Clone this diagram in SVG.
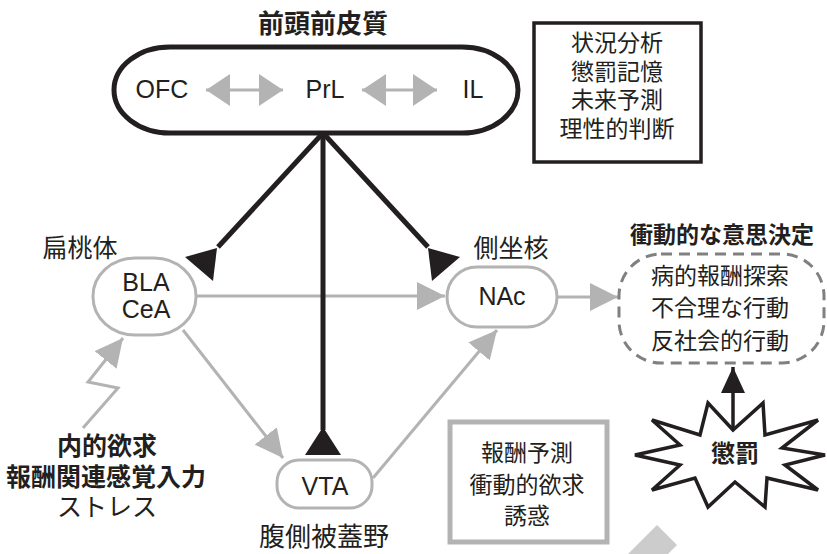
<svg xmlns="http://www.w3.org/2000/svg" width="827" height="554" viewBox="0 0 827 554">
<defs>
<style>
.t{font-family:"Liberation Sans","Noto Sans CJK JP",sans-serif;fill:#231f20;text-anchor:middle}
.j{font-family:"Noto Sans CJK JP","Liberation Sans",sans-serif;fill:#231f20;text-anchor:middle}
.b{font-weight:bold}
.gn{fill:#fff;stroke:#b3b3b3;stroke-width:3}
.gl{fill:none;stroke:#b3b3b3;stroke-width:3}
.bl{fill:none;stroke:#231f20;stroke-width:5}
.bh{fill:#231f20;stroke:none}
</style>
<marker id="ga" viewBox="0 0 28 28" refX="28" refY="14" markerWidth="28" markerHeight="28" markerUnits="userSpaceOnUse" orient="auto">
<path d="M0,0 L28,14 L0,28 Z" fill="#b3b3b3"/>
</marker>
<marker id="gd" viewBox="0 0 24 32" refX="24" refY="16" markerWidth="24" markerHeight="32" markerUnits="userSpaceOnUse" orient="auto-start-reverse">
<path d="M0,0 L24,16 L0,32 Z" fill="#b3b3b3"/>
</marker>
<marker id="ba" viewBox="0 0 26 24" refX="26" refY="12" markerWidth="26" markerHeight="24" markerUnits="userSpaceOnUse" orient="auto">
<path d="M0,0 L26,12 L0,24 Z" fill="#231f20"/>
</marker>
</defs>
<rect width="827" height="554" fill="#fff"/>

<g id="pfc">
<text class="j b" x="323" y="33" font-size="26">前頭前皮質</text>
<rect x="114" y="47" width="404" height="86" rx="56" ry="43" fill="#fff" stroke="#231f20" stroke-width="5"/>
<text class="t" x="162" y="98" font-size="25">OFC</text>
<text class="t" x="325" y="98" font-size="25">PrL</text>
<text class="t" x="473" y="98" font-size="25">IL</text>
<line class="gl" x1="206" y1="90" x2="283" y2="90" marker-start="url(#gd)" marker-end="url(#gd)"/>
<line class="gl" x1="362" y1="90" x2="437" y2="90" marker-start="url(#gd)" marker-end="url(#gd)"/>
</g>

<g id="functions">
<rect x="534" y="23" width="167" height="139" fill="#fff" stroke="#231f20" stroke-width="3.5"/>
<text class="j" x="617" y="51" font-size="23">状況分析</text>
<text class="j" x="617" y="80" font-size="23">懲罰記憶</text>
<text class="j" x="617" y="108" font-size="23">未来予測</text>
<text class="j" x="617" y="137" font-size="23">理性的判断</text>
</g>

<g id="connectors">
<line class="gl" x1="197" y1="296" x2="445" y2="296" marker-end="url(#ga)"/>
<line class="gl" x1="557" y1="297" x2="618" y2="297" marker-end="url(#ga)"/>
<line class="gl" x1="183" y1="330" x2="283" y2="458" marker-end="url(#ga)"/>
<line class="gl" x1="373" y1="478" x2="497" y2="330" marker-end="url(#ga)"/>
<polyline class="gl" points="83,428 118,388 88,382 123,338" marker-end="url(#ga)"/>
<line class="bl" x1="323" y1="133" x2="218" y2="247"/>
<polygon class="bh" points="217,248 185,257 213,281"/>
<line class="bl" x1="323" y1="133" x2="428" y2="247"/>
<polygon class="bh" points="428,248 460,257 432,281"/>
<line class="bl" x1="323" y1="133" x2="323" y2="430"/>
<polygon class="bh" points="323,427 305,455 341,455"/>
<line x1="733" y1="432" x2="733" y2="367" stroke="#231f20" stroke-width="3.5" marker-end="url(#ba)"/>
</g>

<g id="amygdala">
<text class="j" x="80" y="257" font-size="25">扁桃体</text>
<rect class="gn" x="93" y="258" width="103" height="77" rx="42" ry="38"/>
<text class="t" x="146" y="291" font-size="25">BLA</text>
<text class="t" x="146" y="318" font-size="25">CeA</text>
</g>

<g id="nac">
<text class="j" x="511" y="257" font-size="25">側坐核</text>
<rect class="gn" x="447" y="267" width="110" height="60" rx="30"/>
<text class="t" x="502" y="305" font-size="25">NAc</text>
</g>

<g id="vta">
<rect class="gn" x="277" y="460" width="95" height="48" rx="22"/>
<text class="t" x="325" y="495" font-size="25">VTA</text>
<text class="j" x="324" y="546" font-size="26">腹側被蓋野</text>
</g>

<g id="inputs">
<text class="j b" x="107" y="455" font-size="25">内的欲求</text>
<text class="j b" x="106" y="486" font-size="25">報酬関連感覚入力</text>
<text class="j" x="107" y="516" font-size="25">ストレス</text>
</g>

<g id="decision">
<text class="j b" x="722" y="243" font-size="23">衝動的な意思決定</text>
<rect x="619" y="254" width="205" height="109" rx="42" fill="none" stroke="#808080" stroke-width="3" stroke-dasharray="11 7"/>
<text class="j" x="720" y="284" font-size="23">病的報酬探索</text>
<text class="j" x="720" y="316" font-size="23">不合理な行動</text>
<text class="j" x="720" y="349" font-size="23">反社会的行動</text>
</g>

<g id="reward">
<rect x="450" y="422" width="157" height="120" fill="#fff" stroke="#b3b3b3" stroke-width="5"/>
<text class="j" x="527" y="461" font-size="23">報酬予測</text>
<text class="j" x="527" y="493" font-size="23">衝動的欲求</text>
<text class="j" x="527" y="524" font-size="23">誘惑</text>
</g>

<g id="punishment">
<polygon points="708,403 733,430 763,403 765,435 818,420 782,448 825,455 785,465 818,490 767,478 765,507 735,482 708,507 695,478 652,490 680,465 635,455 680,445 652,420 700,435" fill="#fff" stroke="#231f20" stroke-width="3.5" stroke-linejoin="miter"/>
<text class="j b" x="735" y="462" font-size="24">懲罰</text>
</g>

<polygon points="628,554 657,525 677,545 668,554" fill="#cccccc"/>
</svg>
